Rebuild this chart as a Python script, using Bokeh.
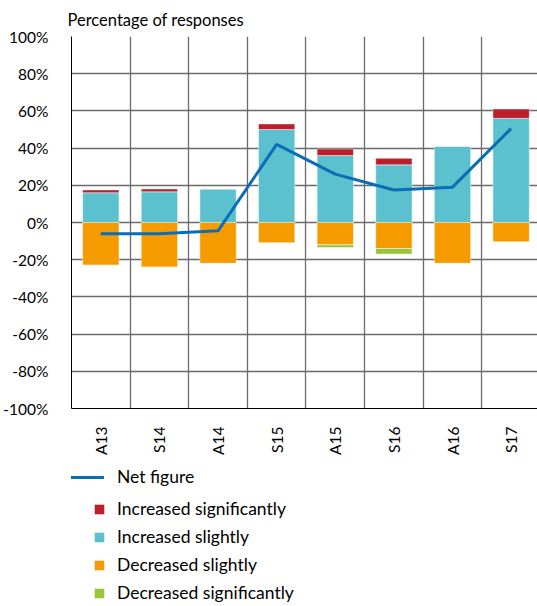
from bokeh.plotting import figure
from bokeh.layouts import column
from bokeh.models import (ColumnDataSource, Range1d, FixedTicker, PrintfTickFormatter,
                          Legend, LegendItem)
from bokeh.embed import file_html
from bokeh.resources import INLINE

categories = ["A13", "S14", "A14", "S15", "A15", "S16", "A16", "S17"]
inc_sig = [1.5, 1.5, 0.0, 3.0, 3.5, 3.5, 0.0, 5.0]
inc_slight = [16.0, 16.5, 18.0, 50.0, 36.0, 31.0, 41.0, 56.0]
dec_slight = [23.0, 24.0, 22.0, 11.0, 12.0, 14.0, 22.0, 10.5]
dec_sig = [0.0, 0.0, 0.0, 0.0, 1.5, 3.0, 0.0, 0.0]
net = [-6.0, -6.0, -4.5, 42.0, 26.0, 17.5, 19.0, 50.5]
y_ticks = list(range(-100, 101, 20))
series_names = ["Net figure", "Increased significantly", "Increased slightly",
                "Decreased slightly", "Decreased significantly"]

FONT = "Lato"
FS = "16.5px"
FS_AX = "15.5px"
FS_LG = "17.5px"
RED, CYAN, ORANGE, GREEN, BLUE = "#BC1F2C", "#5BC1CF", "#F59B00", "#9BC43A", "#0B6EB5"

x = [i + 0.5 for i in range(len(categories))]
src = ColumnDataSource(dict(
    x=x,
    sl_top=inc_slight,
    sig_bot=inc_slight,
    sig_top=[a + b for a, b in zip(inc_slight, inc_sig)],
    dsl_bot=[-v for v in dec_slight],
    dsig_top=[-v for v in dec_slight],
    dsig_bot=[-(a + b) for a, b in zip(dec_slight, dec_sig)],
    net=net,
))

p = figure(frame_width=466, frame_height=372,
           x_range=Range1d(0, 7.95), y_range=Range1d(-100, 100),
           output_backend="svg", toolbar_location=None,
           min_border_left=63, min_border_right=0, min_border_top=33, min_border_bottom=0,
           title="Percentage of responses")
p.title.text_font = FONT
p.title.text_font_size = FS
p.title.text_font_style = "normal"
p.title.text_color = "#000000"
p.title.offset = -4
p.title.standoff = 14
p.outline_line_color = None

p.xgrid.ticker = FixedTicker(ticks=list(range(len(categories) + 1)))
p.ygrid.ticker = FixedTicker(ticks=y_ticks)
for g in (p.xgrid, p.ygrid):
    g.grid_line_color = "#6a6a6a"
    g.grid_line_width = 1.3

p.yaxis.ticker = FixedTicker(ticks=y_ticks)
p.yaxis.formatter = PrintfTickFormatter(format="%d%%")
p.yaxis.major_tick_line_color = None
p.yaxis.minor_tick_line_color = None
p.yaxis.axis_line_color = "#000000"
p.yaxis.major_label_standoff = 17

p.xaxis.ticker = FixedTicker(ticks=x)
p.xaxis.major_label_overrides = {xx: c for xx, c in zip(x, categories)}
p.xaxis.major_label_orientation = 1.5708
p.xaxis.major_tick_line_color = None
p.xaxis.minor_tick_line_color = None
p.xaxis.axis_line_color = "#000000"
p.xaxis.major_label_standoff = 12

for ax in (p.xaxis, p.yaxis):
    ax.major_label_text_font = FONT
    ax.major_label_text_font_size = FS_AX
    ax.major_label_text_color = "#000000"

bw = 0.62
specs = [("sl_top", 0, CYAN), ("sig_top", "sig_bot", RED),
         (0, "dsl_bot", ORANGE), ("dsig_top", "dsig_bot", GREEN)]
for top, bottom, color in specs:
    p.vbar(x="x", bottom=bottom, top=top, fill_color=color, source=src, width=bw,
           line_color="white", line_alpha=0.45, line_width=1)
p.line(x="x", y="net", source=src, line_color=BLUE, line_width=3)

# legend panel (proxy renderers, hidden)
H = 150
p2 = figure(width=529, height=H, x_range=Range1d(0, 1), y_range=Range1d(0, 1),
            x_axis_type=None, y_axis_type=None,
            output_backend="svg", toolbar_location=None,
            min_border=0, outline_line_color=None)
p2.grid.visible = False
l_net = p2.line(x="x", y="net", source=src, line_color=BLUE, line_width=3, visible=False)
l_bars = [p2.vbar(x="x", bottom=bottom, top=top, width=bw, source=src, fill_color=c,
                  line_color=None, visible=False)
          for (top, bottom, c) in (specs[1], specs[0], specs[2], specs[3])]

common = dict(border_line_color=None, background_fill_alpha=0, padding=0, margin=0,
              label_text_font=FONT, label_text_font_size=FS_LG, label_height=20,
              spacing=7, label_text_color="#000000", click_policy="none")
lg1 = Legend(items=[LegendItem(label=series_names[0], renderers=[l_net])],
             location=(-3, H - 30), glyph_width=36, glyph_height=20, label_standoff=13,
             **common)
lg2 = Legend(items=[LegendItem(label=n, renderers=[r]) for n, r in zip(series_names[1:], l_bars)],
             location=(22, H - 146), glyph_width=12, glyph_height=12, label_standoff=12,
             **common)
p2.add_layout(lg1)
p2.add_layout(lg2)

open("out.html", "w").write(file_html(column(p, p2, spacing=0), INLINE))
